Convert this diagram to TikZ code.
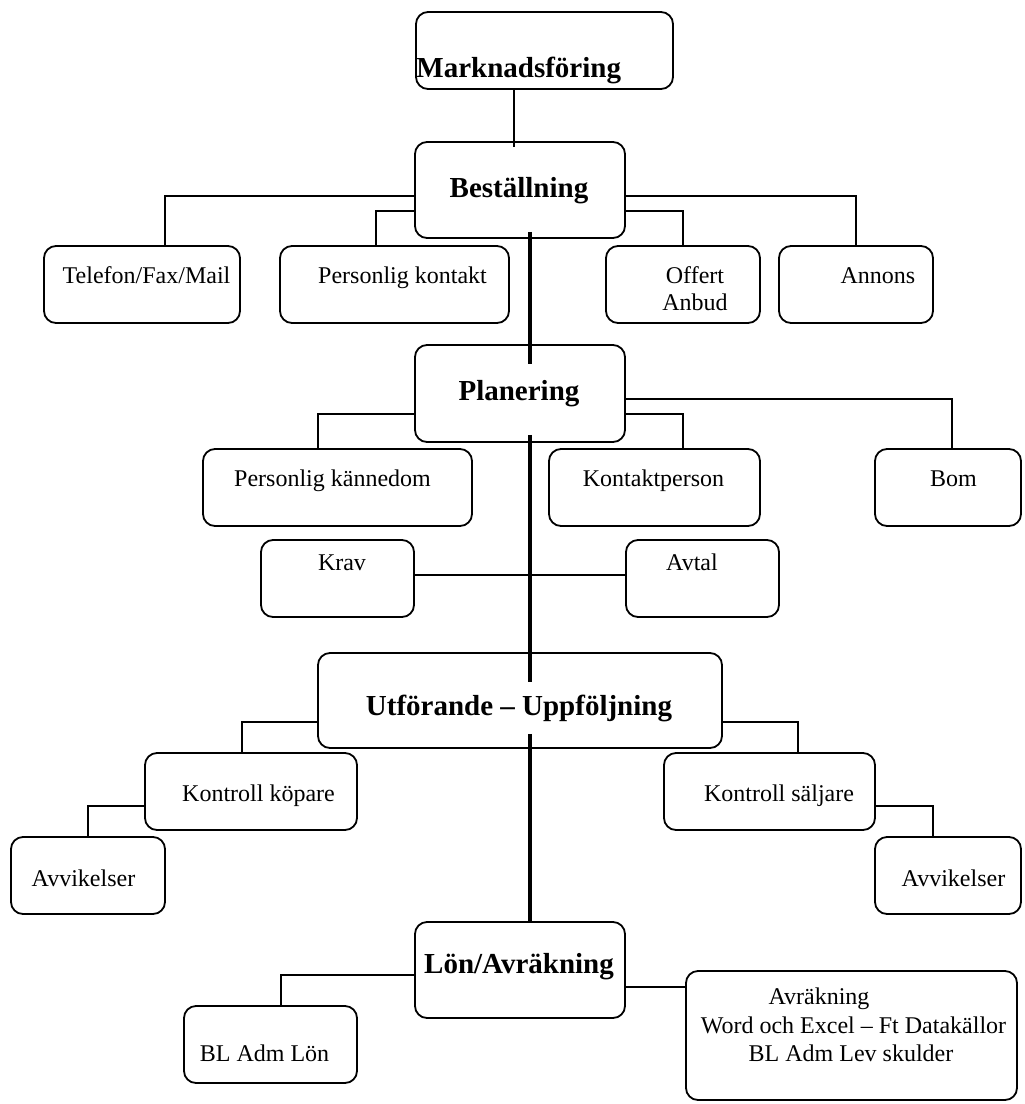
\documentclass[tikz,border=0pt]{standalone}
\usepackage{fontspec}
\setmainfont{Liberation Serif}
\usetikzlibrary{fit}

\tikzset{
  blk/.style={draw, rounded corners=6pt, line width=0.9pt, inner sep=0pt},
  conn/.style={line width=0.7pt},
  trunk/.style={line width=2pt},
  txt/.style={anchor=base, inner sep=0pt, font=\fontsize{12}{13.5}\selectfont},
  head/.style={anchor=base, inner sep=0pt, font=\fontsize{14.5}{16}\selectfont\bfseries},
}

\begin{document}
\begin{tikzpicture}[x=0.5pt, y=-0.5pt]
    \useasboundingbox (0,0) rectangle (1024,1104);

    % boxes
    \node[blk, fit={(416,12) (673,89)}] (mark) {};
    \node[blk, fit={(415,142) (625,238)}] (best) {};
    \node[blk, fit={(44,246) (240,323)}] (tel) {};
    \node[blk, fit={(280,246) (509,323)}] (pkon) {};
    \node[blk, fit={(606,246) (760,323)}] (off) {};
    \node[blk, fit={(779,246) (933,323)}] (ann) {};
    \node[blk, fit={(415,345) (625,442)}] (plan) {};
    \node[blk, fit={(203,449) (472,526)}] (pkan) {};
    \node[blk, fit={(549,449) (760,526)}] (kpers) {};
    \node[blk, fit={(875,449) (1021,526)}] (bom) {};
    \node[blk, fit={(261,540) (414,617)}] (krav) {};
    \node[blk, fit={(626,540) (779,617)}] (avtal) {};
    \node[blk, fit={(318,653) (722,748)}] (utf) {};
    \node[blk, fit={(145,753) (357,830)}] (kk) {};
    \node[blk, fit={(664,753) (875,830)}] (ks) {};
    \node[blk, fit={(11,837) (165,914)}] (avl) {};
    \node[blk, fit={(875,837) (1021,914)}] (avr) {};
    \node[blk, fit={(415,922) (625,1018)}] (lon) {};
    \node[blk, fit={(184,1006) (357,1083)}] (bladm) {};
    \node[blk, fit={(686,971) (1017,1100)}] (avrk) {};

    % texts
    \node[head, anchor=base west] (tmark) at (416,77) {Marknadsföring};
    \node[head] (tbest) at (519,197) {Beställning};
    \node[txt] (ttel) at (146.5,283) {Telefon/Fax/Mail};
    \node[txt] (tpkon) at (402.5,283) {Personlig kontakt};
    \node[txt] (toff) at (695,283) {Offert};
    \node[txt] (tanb) at (695,310) {Anbud};
    \node[txt] (tann) at (878,283) {Annons};
    \node[head] (tplan) at (519,400) {Planering};
    \node[txt] (tpkan) at (332.5,486) {Personlig kännedom};
    \node[txt] (tkpers) at (653.5,486) {Kontaktperson};
    \node[txt] (tbom) at (953.5,486) {Bom};
    \node[txt] (tkrav) at (342,570) {Krav};
    \node[txt] (tavtal) at (692,570) {Avtal};
    \node[head] (tutf) at (519,715) {Utförande – Uppföljning};
    \node[txt] (tkk) at (258.5,801) {Kontroll köpare};
    \node[txt] (tks) at (779,801) {Kontroll säljare};
    \node[txt] (tavl) at (83.5,886) {Avvikelser};
    \node[txt] (tavr) at (953.5,886) {Avvikelser};
    \node[head] (tlon) at (519,973) {Lön/Avräkning};
    \node[txt] (tbladm) at (264.5,1061) {BL Adm Lön};
    \node[txt] (tavrk) at (819,1004) {Avräkning};
    \node[txt] (tword) at (853.5,1033) {Word och Excel – Ft Datakällor};
    \node[txt] (tlev) at (851,1061) {BL Adm Lev skulder};

    % connectors
    \draw[conn, shorten >=-3pt] (mark.south -| 514,0) -- (best.north -| 514,0);
    \draw[conn] (best.west |- 0,196) -| (tel.north -| 165,0);
    \draw[conn] (best.west |- 0,211) -| (pkon.north -| 376,0);
    \draw[conn] (best.east |- 0,211) -| (off.north -| 683,0);
    \draw[conn] (best.east |- 0,196) -| (ann.north -| 856,0);
    \draw[conn] (plan.west |- 0,414) -| (pkan.north -| 318,0);
    \draw[conn] (plan.east |- 0,414) -| (kpers.north -| 683,0);
    \draw[conn] (plan.east |- 0,399) -| (bom.north -| 952,0);
    \draw[conn] (krav.east |- 0,575) -- (avtal.west |- 0,575);
    \draw[conn] (utf.west |- 0,722) -| (kk.north -| 242,0);
    \draw[conn] (utf.east |- 0,722) -| (ks.north -| 798,0);
    \draw[conn] (kk.west |- 0,806) -| (avl.north -| 88,0);
    \draw[conn] (ks.east |- 0,806) -| (avr.north -| 933,0);
    \draw[conn] (lon.west |- 0,975) -| (bladm.north -| 281,0);
    \draw[conn, line width=1pt] (lon.east |- 0,987) -- (avrk.west |- 0,987);

    % trunk
    \draw[trunk, shorten <=-3.5pt, shorten >=-10pt] (best.south -| 530,0) -- (plan.north -| 530,0);
    \draw[trunk, shorten <=-4pt, shorten >=-15pt] (plan.south -| 530,0) -- (utf.north -| 530,0);
    \draw[trunk, shorten <=-7.5pt] (utf.south -| 530,0) -- (lon.north -| 530,0);
\end{tikzpicture}
\end{document}
